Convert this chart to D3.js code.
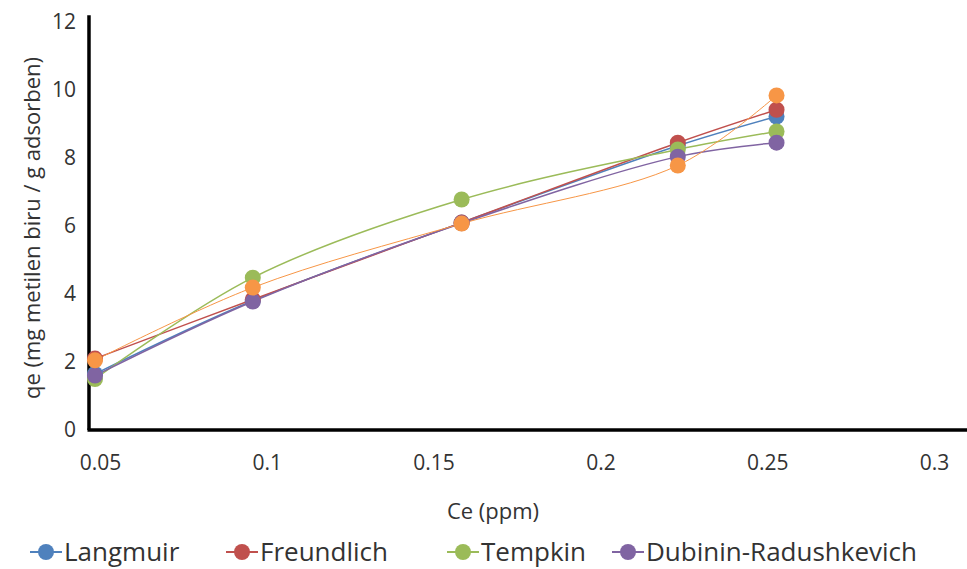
<!DOCTYPE html>
<html>
<head>
<meta charset="utf-8">
<script src="https://cdn.jsdelivr.net/npm/d3@7"></script>
<style>
  body { margin: 0; background: #fff; }
  svg { display: block; }
  text { font-family: "Open Sans", sans-serif; fill: #333; }
</style>
</head>
<body>
<svg id="chart" width="967" height="569"></svg>
<script>
// Ce values (ppm)
var ce = [0.0485, 0.0958, 0.1584, 0.2232, 0.2528]
// qe values, experimental + the four isotherm models
var qeData = [2.05, 4.19, 6.07, 7.78, 9.84]
var langmuir = [1.65, 3.80, 6.10, 8.36, 9.22]
var freundlich = [2.10, 3.84, 6.10, 8.45, 9.42]
var tempkin = [1.50, 4.48, 6.78, 8.25, 8.78]
var dubinin = [1.60, 3.78, 6.08, 8.04, 8.45]

var seriesNames = ['Langmuir', 'Freundlich', 'Tempkin', 'Dubinin-Radushkevich']
var seriesValues = [langmuir, freundlich, tempkin, dubinin]
var colors = ['#4f81bd', '#c0504d', '#9bbb59', '#8064a2']
var dataColor = '#f79646'

var xTicks = [0.05, 0.1, 0.15, 0.2, 0.25, 0.3]
var yTicks = [0, 2, 4, 6, 8, 10, 12]

var svg = d3.select('#chart')

var xscale = d3.scaleLinear().domain([0.05, 0.3]).range([100, 934])
var yscale = d3.scaleLinear().domain([0, 12]).range([430, 22])
var xMin = 0.0467, xMax = 0.31, yMax = 12.2

// model lines
var line = d3.line()
    .x(function (d, i) { return xscale(ce[i]) })
    .y(function (d) { return yscale(d) })
    .curve(d3.curveCatmullRom.alpha(0.5))

svg.append('g').selectAll('path')
    .data(seriesValues)
    .enter()
    .append('path')
    .attr('d', line)
    .attr('fill', 'none')
    .attr('stroke', function (d, i) { return colors[i] })
    .attr('stroke-width', 1.5)

svg.append('path')
    .attr('d', line(qeData))
    .attr('fill', 'none')
    .attr('stroke', dataColor)
    .attr('stroke-width', 1)

// axes
var xAxis = svg.append('g')
    .attr('transform', 'translate(0,' + yscale(0) + ')')
    .call(d3.axisBottom(xscale).tickValues(xTicks).tickSize(0).tickPadding(25)
        .tickFormat(function (d) { return String(d) }))
xAxis.select('.domain').remove()
xAxis.selectAll('text').attr('font-size', 21).attr('font-family', '"Open Sans", sans-serif').attr('fill', '#333')

var yAxis = svg.append('g')
    .attr('transform', 'translate(' + xscale(xMin) + ',0)')
    .call(d3.axisLeft(yscale).tickValues(yTicks).tickSize(0).tickPadding(13))
yAxis.select('.domain').remove()
yAxis.selectAll('text').attr('font-size', 21).attr('font-family', '"Open Sans", sans-serif').attr('fill', '#333')

svg.append('line')
    .attr('x1', xscale(xMin) - 1.5).attr('x2', xscale(xMax))
    .attr('y1', yscale(0)).attr('y2', yscale(0))
    .attr('stroke', '#000').attr('stroke-width', 3.5)
svg.append('line')
    .attr('x1', xscale(xMin)).attr('x2', xscale(xMin))
    .attr('y1', yscale(yMax)).attr('y2', yscale(0))
    .attr('stroke', '#000').attr('stroke-width', 3.5)

// markers
var groups = svg.append('g').selectAll('g')
    .data(seriesValues)
    .enter()
    .append('g')
    .attr('fill', function (d, i) { return colors[i] })
groups.selectAll('circle')
    .data(function (d) { return d })
    .enter()
    .append('circle')
    .attr('cx', function (d, i) { return xscale(ce[i]) })
    .attr('cy', function (d) { return yscale(d) })
    .attr('r', 8)

svg.append('g').selectAll('circle')
    .data(qeData)
    .enter()
    .append('circle')
    .attr('cx', function (d, i) { return xscale(ce[i]) })
    .attr('cy', function (d) { return yscale(d) })
    .attr('r', 8)
    .attr('fill', dataColor)

// axis titles
svg.append('text').text('Ce (ppm)')
    .attr('x', 493).attr('y', 519)
    .attr('text-anchor', 'middle').attr('font-size', 22)
svg.append('text').text('qe (mg metilen biru / g adsorben)')
    .attr('transform', 'translate(40,228) rotate(-90)')
    .attr('text-anchor', 'middle').attr('font-size', 22)

// legend
var legendX = [30, 226, 447, 612]
var legend = svg.append('g').selectAll('g')
    .data(seriesNames)
    .enter()
    .append('g')
    .attr('transform', function (d, i) { return 'translate(' + legendX[i] + ',552)' })
legend.append('line')
    .attr('x1', 0).attr('x2', 32).attr('y1', 0).attr('y2', 0)
    .attr('stroke', function (d, i) { return colors[i] }).attr('stroke-width', 2)
legend.append('circle')
    .attr('cx', 16).attr('cy', 0).attr('r', 8)
    .attr('fill', function (d, i) { return colors[i] })
legend.append('text')
    .attr('x', 34).attr('y', 9)
    .attr('font-size', 26)
    .attr('font-family', '"DejaVu Sans", sans-serif')
    .attr('fill', '#404040')
    .text(function (d) { return d })
</script>
</body>
</html>
